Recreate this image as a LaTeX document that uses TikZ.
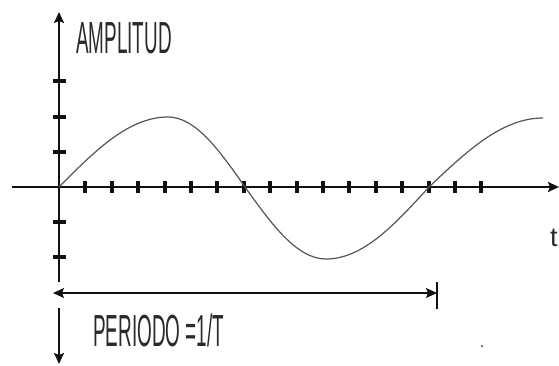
\documentclass[tikz,border=0pt]{standalone}
\usepackage{fontspec}
\setmainfont{Liberation Sans}
\newfontfamily\condfont[FakeStretch=0.42]{Liberation Sans}
\usepackage{xcolor}
\usetikzlibrary{arrows.meta}
\definecolor{INK}{HTML}{111111}
\definecolor{WAVE}{HTML}{555555}
\definecolor{TXT}{HTML}{2A2A2A}

\begin{document}
\begin{tikzpicture}[
  x=1pt, y=-1pt,
  axis/.style={draw=INK, line width=2pt, -{Stealth[length=11pt, width=10pt, inset=2pt]}},
  span/.style={draw=INK, line width=1.3pt, {Stealth[length=11pt, width=10pt, inset=2pt]}-{Stealth[length=11pt, width=10pt, inset=2pt]}},
  tickx/.style={draw=INK, line width=4pt},
  ticky/.style={draw=INK, line width=4pt},
  wave/.style={draw=WAVE, line width=1.2pt},
  lab/.style={inner sep=0pt, text=TXT, font=\condfont\fontsize{45}{48}\selectfont},
]
\useasboundingbox (0,0) rectangle (559,365);

% axes
\coordinate (o) at (59,187);
\coordinate (xl) at (12,187);
\coordinate (xr) at (559,187);
\coordinate (yt) at (59,12);
\coordinate (ycut) at (59,282);
\coordinate (yres) at (59,308);
\coordinate (yb) at (59,364);
\draw[axis] (xl) -- (xr);
\draw[axis] (ycut) -- (yt);
\draw[axis] (yres) -- (yb);

% ticks
\foreach \i in {1,...,16}
  \draw[tickx] ({59+26.4*\i},181) -- ++(0,12);
\foreach \k in {-3,-2,-1,1,2}
  \draw[ticky] (53,{187+35.2*\k}) -- ++(13,0);

% wave
\draw[wave] (o) sin (168,117) cos (245,187) sin (326,259) cos (429,187) sin (543,118);

% period
\coordinate (pl) at (53,293);
\coordinate (pr) at (437,293);
\draw[span] (pl) -- (pr);
\draw[draw=INK, line width=1.3pt] (437,282) -- (437,309);

% labels
\node[lab, anchor=base west] (amp) at (76,53) {AMPLITUD};
\node[lab, anchor=base west] (per) at (93,346) {PERIODO =1/T};
\node[inner sep=0pt, text=TXT, font=\fontsize{27}{30}\selectfont, anchor=base west] (t) at (550,246) {t};
\fill[TXT] (482,346) circle (1pt);

\end{tikzpicture}
\end{document}
